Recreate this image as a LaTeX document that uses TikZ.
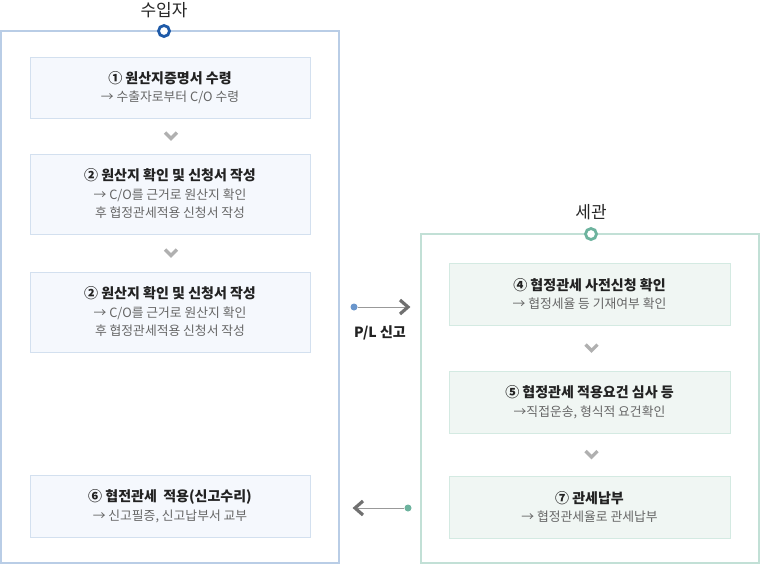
\documentclass[tikz,border=0pt]{standalone}
\usepackage{fontspec}
\setmainfont{Noto Sans CJK KR}
\usetikzlibrary{calc}
\definecolor{lout}{HTML}{B9CDE6}
\definecolor{lboxb}{HTML}{D3E0EF}
\definecolor{lboxf}{HTML}{F5F8FD}
\definecolor{lcirc}{HTML}{1E5AA8}
\definecolor{rout}{HTML}{C2E0D6}
\definecolor{rboxb}{HTML}{D4EAE2}
\definecolor{rboxf}{HTML}{F0F6F3}
\definecolor{rcirc}{HTML}{6DB39E}
\definecolor{subgray}{HTML}{666666}
\definecolor{titlec}{HTML}{222222}
\definecolor{chev}{HTML}{B0B0B0}
\definecolor{arrg}{HTML}{707070}
\definecolor{lineg}{HTML}{999999}
\definecolor{ldot}{HTML}{6A96CC}
\tikzset{
  outerbox/.style={draw, line width=2pt, inner sep=0pt, fill=white},
  stepbox/.style={draw, line width=1pt, inner sep=0pt, minimum width=280pt, align=center,
     font=\fontsize{12.8}{18.5}\selectfont, text=subgray},
  lstep/.style={stepbox, draw=lboxb, fill=lboxf},
  rstep/.style={stepbox, draw=rboxb, fill=rboxf},
  headtitle/.style={font=\fontsize{17}{18}\selectfont, text=black!85},
  chevmark/.style={draw=chev, line width=3.2pt},
  arrmark/.style={draw=arrg, line width=3.2pt},
}
\newcommand{\stt}[1]{{\bfseries\fontsize{14}{20}\selectfont\color{titlec}#1}}
\begin{document}
\begin{tikzpicture}[x=1pt,y=-1pt]
\useasboundingbox (0,0) rectangle (760,566);
% outer boxes
\node[outerbox, draw=lout, minimum width=338pt, minimum height=532pt] (imp) at (170,297) {};
\node[outerbox, draw=rout, minimum width=338pt, minimum height=329pt] (cus) at (590,398.5) {};
% header circles and titles
\node[circle, draw=lcirc, line width=2.8pt, fill=white, minimum size=11pt, inner sep=0pt] (impc) at (164,31) {};
\node[headtitle] (impt) at (164,10) {수입자};
\node[circle, draw=rcirc, line width=2.8pt, fill=white, minimum size=11pt, inner sep=0pt] (cusc) at (591,234) {};
\node[headtitle] (cust) at (591,212) {세관};
% left steps
\node[lstep, minimum height=61pt] (b1) at (170,87.5) {\stt{① 원산지증명서 수령}\\→ 수출자로부터 C/O 수령};
\node[lstep, minimum height=80pt] (b2) at (170,194) {\stt{② 원산지 확인 및 신청서 작성}\\→ C/O를 근거로 원산지 확인\\후 협정관세적용 신청서 작성};
\node[lstep, minimum height=80pt] (b3) at (170,312) {\stt{② 원산지 확인 및 신청서 작성}\\→ C/O를 근거로 원산지 확인\\후 협정관세적용 신청서 작성};
\node[lstep, minimum height=62pt] (b6) at (170,506) {\stt{⑥ 협전관세~~적용(신고수리)}\\→ 신고필증, 신고납부서 교부};
% right steps
\node[rstep, minimum width=281pt, minimum height=62pt] (b4) at (589.5,294) {\stt{④ 협정관세 사전신청 확인}\\→ 협정세율 등 기재여부 확인};
\node[rstep, minimum width=281pt, minimum height=62pt] (b5) at (589.5,402) {\stt{⑤ 협정관세 적용요건 심사 등}\\→직접운송, 형식적 요건확인};
\node[rstep, minimum width=281pt, minimum height=62pt] (b7) at (589.5,507) {\stt{⑦ 관세납부}\\→ 협정관세율로 관세납부};
% chevrons
\coordinate (c1) at ($(b1.south)!0.5!(b2.north)+(1,0)$);
\coordinate (c2) at ($(b2.south)!0.5!(b3.north)+(1,0)$);
\coordinate (c3) at ($(b4.south)!0.5!(b5.north)+(2,0)$);
\coordinate (c4) at ($(b5.south)!0.5!(b7.north)+(2,0)$);
\foreach \c in {c1,c2,c3,c4}
  \draw[chevmark] ($(\c)+(-6,-3.5)$) -- ($(\c)+(0,2.5)$) -- ($(\c)+(6,-3.5)$);
% P/L arrow
\node[circle, fill=ldot, minimum size=7pt, inner sep=0pt] (pd) at (354,307) {};
\coordinate (pt) at (408,307);
\draw[lineg, line width=1pt] (pd) -- ($(pt)+(-3,0)$);
\draw[arrmark] ($(pt)+(-8,-7)$) -- (pt) -- ($(pt)+(-8,7)$);
\node[font=\bfseries\fontsize{14}{16}\selectfont, text=titlec] (pl) at (380,333) {P/L 신고};
% return arrow
\node[circle, fill=rcirc, minimum size=7pt, inner sep=0pt] (rd) at (408,508) {};
\coordinate (rt) at (355,508);
\draw[lineg, line width=1pt] (rd) -- ($(rt)+(3,0)$);
\draw[arrmark] ($(rt)+(8,-7)$) -- (rt) -- ($(rt)+(8,7)$);
\end{tikzpicture}
\end{document}
